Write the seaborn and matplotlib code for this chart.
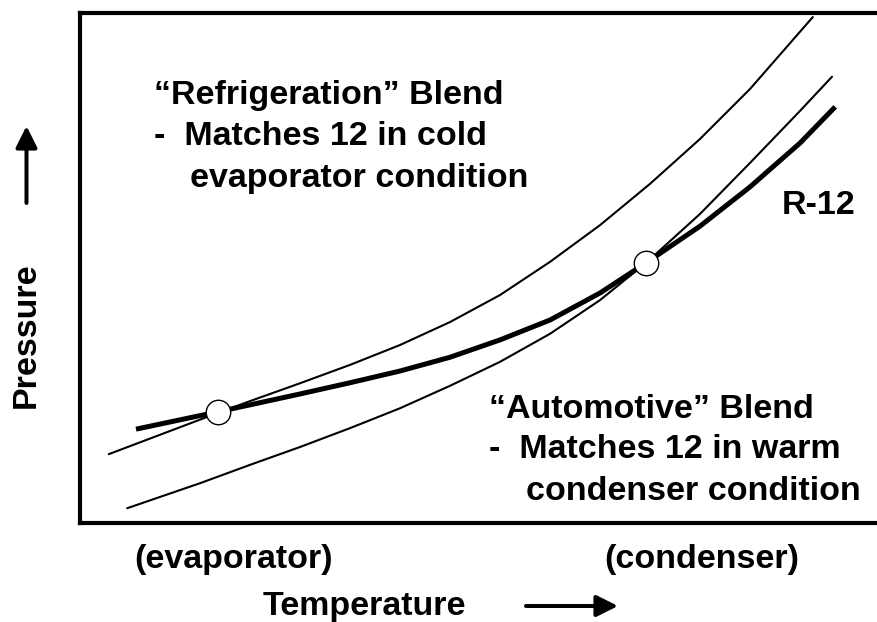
import matplotlib
matplotlib.use("Agg")
import matplotlib.pyplot as plt
from matplotlib.patches import FancyArrowPatch
import seaborn as sns
import pandas as pd

# ---- data (arbitrary temperature / pressure units) ----
refrig_T = [3.6, 17.25, 21.25, 27.5, 33.75, 40.0, 46.25, 52.5, 58.75, 65.0, 71.25, 77.5, 83.75, 91.6]
refrig_P = [13.5, 21.6, 23.9, 27.4, 31.0, 34.9, 39.4, 44.7, 51.2, 58.4, 66.5, 75.3, 85.1, 99.2]

r12_T = [7.0, 17.25, 27.5, 33.75, 40.0, 46.25, 52.5, 58.75, 65.0, 70.75, 77.5, 83.75, 90.0, 94.4]
r12_P = [18.4, 21.8, 25.3, 27.5, 29.8, 32.5, 35.9, 39.8, 45.1, 51.0, 58.2, 65.9, 74.5, 81.6]

auto_T = [5.9, 15.0, 21.25, 27.5, 33.75, 40.0, 46.25, 52.5, 58.75, 65.0, 70.75, 77.5, 83.75, 90.0, 94.0]
auto_P = [2.9, 7.8, 11.4, 14.9, 18.6, 22.5, 26.9, 31.6, 37.1, 43.7, 51.0, 60.6, 70.6, 80.8, 87.5]

match_T = [17.25, 70.75]
match_P = [21.7, 51.0]

refrig_lines = ["\u201cRefrigeration\u201d Blend", "-  Matches 12 in cold", "evaporator condition"]
auto_lines = ["\u201cAutomotive\u201d Blend", "-  Matches 12 in warm", "condenser condition"]
curve_label = "R-12"
x_labels = ["(evaporator)", "(condenser)"]
x_title = "Temperature"
y_title = "Pressure"

# ---- figure ----
sns.set_style("white")
plt.rcParams["font.family"] = ["Liberation Sans", "DejaVu Sans"]
plt.rcParams["font.weight"] = "bold"
plt.rcParams["text.color"] = "black"

W, H = 877, 622
fig = plt.figure(figsize=(W / 100, H / 100), dpi=100)
L, T, B = 80, 13, 523
ax = fig.add_axes([L / W, 1 - B / H, (W - L) / W, (B - T) / H])

df_ref = pd.DataFrame({"T": refrig_T, "P": refrig_P})
df_r12 = pd.DataFrame({"T": r12_T, "P": r12_P})
df_auto = pd.DataFrame({"T": auto_T, "P": auto_P})
df_pts = pd.DataFrame({"T": match_T, "P": match_P})

line_kw = dict(sort=False, color="black", ax=ax, solid_joinstyle="round")
sns.lineplot(data=df_ref, x="T", y="P", lw=1.5, **line_kw)
sns.lineplot(data=df_auto, x="T", y="P", lw=1.5, **line_kw)
sns.lineplot(data=df_r12, x="T", y="P", lw=3.6, solid_capstyle="butt", **line_kw)
sns.scatterplot(data=df_pts, x="T", y="P", s=310, color="white", edgecolor="black",
                linewidth=1.0, ax=ax, zorder=5)

ax.set_xlim(0, (W - L) / 8)
ax.set_ylim(0, (B - T) / 5.1)
ax.set_xticks([])
ax.set_yticks([])
ax.set_xlabel("")
ax.set_ylabel("")
for side in ["left", "top", "bottom"]:
    ax.spines[side].set_visible(True)
    ax.spines[side].set_linewidth(3.0)
    ax.spines[side].set_color("black")
ax.spines["right"].set_visible(False)


def fx(x):
    return x / W


def fy(y):
    return 1 - y / H


fs = 24.5
kw = dict(fontsize=fs, fontweight="bold", va="baseline", ha="left", color="black")
for i, s in enumerate(refrig_lines):
    fig.text(fx(154 if i < 2 else 190), fy(104 + 41.5 * i), s, **kw)
for i, s in enumerate(auto_lines):
    fig.text(fx(489 if i < 2 else 526), fy(417.5 + 41 * i), s, **kw)
fig.text(fx(782), fy(214), curve_label, **kw)
fig.text(fx(134), fy(568), x_labels[0], **kw)
fig.text(fx(604), fy(568), x_labels[1], **kw)
fig.text(fx(263), fy(615), x_title, **kw)
fig.text(fx(26.5), fy(335), y_title, rotation=90, fontsize=fs, fontweight="bold",
         va="center", ha="center", color="black")

# arrows
astyle = "-|>,head_length=13,head_width=6.5"
fig.add_artist(FancyArrowPatch(
    (fx(526), fy(606)), (fx(618), fy(606)), transform=fig.transFigure,
    arrowstyle=astyle, mutation_scale=1.0, color="black", lw=2.9,
    shrinkA=0, shrinkB=0))
fig.add_artist(FancyArrowPatch(
    (fx(26.5), fy(203)), (fx(26.5), fy(126)), transform=fig.transFigure,
    arrowstyle=astyle, mutation_scale=1.0, color="black", lw=2.9,
    shrinkA=0, shrinkB=0))

fig.savefig("out.png", dpi=100)
